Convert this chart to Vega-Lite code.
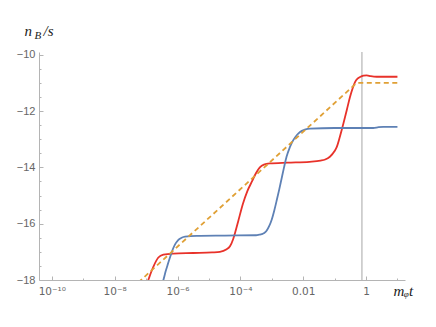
{
  "$schema": "https://vega.github.io/schema/vega-lite/v6.json",
  "width": 366,
  "height": 228,
  "autosize": {"type": "none"},
  "padding": {"left": 39, "top": 52, "right": 31, "bottom": 47},
  "background": "white",
  "config": {
    "view": {"stroke": null},
    "axis": {
      "grid": false,
      "domainColor": "#b4b4b4",
      "tickColor": "#b4b4b4",
      "labelColor": "#666666",
      "labelFont": "Liberation Sans",
      "labelFontSize": 11,
      "titleFont": "Liberation Serif",
      "titleFontStyle": "italic",
      "titleFontWeight": "normal",
      "titleColor": "#222222",
      "titleFontSize": 15,
      "titleAngle": 0,
      "titleAlign": "left",
      "titleBaseline": "alphabetic"
    }
  },
  "resolve": {"axis": {"x": "independent", "y": "independent"}},
  "layer": [
    {
      "data": {"values": [{"t": 0.74, "v": -18, "v2": -9.9}]},
      "mark": {"type": "rule", "color": "#c4c4c4", "strokeWidth": 1.5},
      "encoding": {
        "x": {
          "field": "t", "type": "quantitative",
          "scale": {"type": "log", "domain": [3.9e-11, 17.4], "nice": false},
          "axis": {
            "orient": "bottom",
            "values": [1e-9, 1e-7, 1e-5, 1e-3, 0.1, 10],
            "labels": false,
            "domain": false,
            "tickSize": -2,
            "title": "/s",
            "titleX": 4,
            "titleY": -245
          }
        },
        "y": {
          "field": "v", "type": "quantitative",
          "scale": {"domain": [-18, -9.9], "nice": false, "zero": false},
          "axis": {
            "orient": "left",
            "values": [-17.5, -17, -16.5, -15.5, -15, -14.5, -13.5, -13, -12.5, -11.5, -11, -10.5],
            "labels": false,
            "domain": false,
            "tickSize": -2,
            "title": "B",
            "titleFontSize": 11,
            "titleX": -5,
            "titleY": -14
          }
        },
        "y2": {"field": "v2"}
      }
    },
    {
      "data": {"values": [
        {"t": 1e-7, "v": -18.2, "s": "red"},
        {"t": 1.175e-7, "v": -18.0, "s": "red"},
        {"t": 1.413e-7, "v": -17.75, "s": "red"},
        {"t": 1.698e-7, "v": -17.53, "s": "red"},
        {"t": 2.455e-7, "v": -17.2, "s": "red"},
        {"t": 3.548e-7, "v": -17.1, "s": "red"},
        {"t": 7.244e-7, "v": -17.06, "s": "red"},
        {"t": 3.162e-6, "v": -17.04, "s": "red"},
        {"t": 1.259e-5, "v": -17.02, "s": "red"},
        {"t": 2.239e-5, "v": -17.0, "s": "red"},
        {"t": 3.548e-5, "v": -16.92, "s": "red"},
        {"t": 4.677e-5, "v": -16.8, "s": "red"},
        {"t": 5.888e-5, "v": -16.55, "s": "red"},
        {"t": 7.079e-5, "v": -16.25, "s": "red"},
        {"t": 8.511e-5, "v": -15.92, "s": "red"},
        {"t": 1.202e-4, "v": -15.3, "s": "red"},
        {"t": 1.66e-4, "v": -14.85, "s": "red"},
        {"t": 2.344e-4, "v": -14.5, "s": "red"},
        {"t": 3.162e-4, "v": -14.2, "s": "red"},
        {"t": 4.169e-4, "v": -14.0, "s": "red"},
        {"t": 5.623e-4, "v": -13.9, "s": "red"},
        {"t": 8.71e-4, "v": -13.86, "s": "red"},
        {"t": 3.162e-3, "v": -13.83, "s": "red"},
        {"t": 1.585e-2, "v": -13.8, "s": "red"},
        {"t": 3.548e-2, "v": -13.76, "s": "red"},
        {"t": 5.012e-2, "v": -13.72, "s": "red"},
        {"t": 7.079e-2, "v": -13.62, "s": "red"},
        {"t": 0.1, "v": -13.42, "s": "red"},
        {"t": 0.1175, "v": -13.27, "s": "red"},
        {"t": 0.1479, "v": -12.9, "s": "red"},
        {"t": 0.1905, "v": -12.44, "s": "red"},
        {"t": 0.2455, "v": -11.95, "s": "red"},
        {"t": 0.309, "v": -11.5, "s": "red"},
        {"t": 0.3802, "v": -11.17, "s": "red"},
        {"t": 0.4467, "v": -10.97, "s": "red"},
        {"t": 0.537, "v": -10.85, "s": "red"},
        {"t": 0.6457, "v": -10.79, "s": "red"},
        {"t": 0.8318, "v": -10.74, "s": "red"},
        {"t": 1.047, "v": -10.73, "s": "red"},
        {"t": 1.413, "v": -10.76, "s": "red"},
        {"t": 2.188, "v": -10.78, "s": "red"},
        {"t": 10, "v": -10.78, "s": "red"},
        {"t": 3.162e-7, "v": -18.15, "s": "blue"},
        {"t": 3.548e-7, "v": -18.0, "s": "blue"},
        {"t": 4.169e-7, "v": -17.7, "s": "blue"},
        {"t": 5.012e-7, "v": -17.41, "s": "blue"},
        {"t": 6.026e-7, "v": -17.13, "s": "blue"},
        {"t": 7.244e-7, "v": -16.88, "s": "blue"},
        {"t": 8.71e-7, "v": -16.7, "s": "blue"},
        {"t": 1.047e-6, "v": -16.58, "s": "blue"},
        {"t": 1.349e-6, "v": -16.5, "s": "blue"},
        {"t": 1.738e-6, "v": -16.46, "s": "blue"},
        {"t": 4.074e-6, "v": -16.43, "s": "blue"},
        {"t": 3.162e-5, "v": -16.42, "s": "blue"},
        {"t": 3.162e-4, "v": -16.41, "s": "blue"},
        {"t": 3.981e-4, "v": -16.39, "s": "blue"},
        {"t": 4.786e-4, "v": -16.37, "s": "blue"},
        {"t": 5.754e-4, "v": -16.33, "s": "blue"},
        {"t": 6.918e-4, "v": -16.24, "s": "blue"},
        {"t": 8.318e-4, "v": -16.08, "s": "blue"},
        {"t": 1.0e-3, "v": -15.85, "s": "blue"},
        {"t": 1.202e-3, "v": -15.53, "s": "blue"},
        {"t": 1.445e-3, "v": -15.16, "s": "blue"},
        {"t": 1.738e-3, "v": -14.77, "s": "blue"},
        {"t": 2.042e-3, "v": -14.41, "s": "blue"},
        {"t": 2.455e-3, "v": -14.0, "s": "blue"},
        {"t": 2.951e-3, "v": -13.62, "s": "blue"},
        {"t": 3.715e-3, "v": -13.3, "s": "blue"},
        {"t": 4.786e-3, "v": -13.04, "s": "blue"},
        {"t": 6.31e-3, "v": -12.85, "s": "blue"},
        {"t": 7.943e-3, "v": -12.74, "s": "blue"},
        {"t": 1.122e-2, "v": -12.66, "s": "blue"},
        {"t": 1.66e-2, "v": -12.62, "s": "blue"},
        {"t": 0.1, "v": -12.6, "s": "blue"},
        {"t": 1.698, "v": -12.6, "s": "blue"},
        {"t": 2.512, "v": -12.57, "s": "blue"},
        {"t": 3.548, "v": -12.56, "s": "blue"},
        {"t": 10, "v": -12.56, "s": "blue"}
      ]},
      "mark": {"type": "line", "interpolate": "monotone", "clip": true, "strokeWidth": 1.8},
      "encoding": {
        "x": {
          "field": "t", "type": "quantitative",
          "axis": {
            "orient": "bottom",
            "values": [1e-10, 1e-8, 1e-6, 1e-4, 0.01, 1],
            "labelExpr": "datum.value < 1e-9 ? '10⁻¹⁰' : datum.value < 1e-7 ? '10⁻⁸' : datum.value < 1e-5 ? '10⁻⁶' : datum.value < 1e-3 ? '10⁻⁴' : datum.value < 0.1 ? '0.01' : '1'",
            "labelFont": "DejaVu Sans",
            "labelFontSize": 10.5,
            "tickSize": -4,
            "labelPadding": 10,
            "labelFlush": false,
            "labelOverlap": false,
            "title": "mᵩt",
            "titleX": 354,
            "titleY": 15
          }
        },
        "y": {
          "field": "v", "type": "quantitative",
          "axis": {
            "orient": "left",
            "values": [-18, -16, -14, -12, -10],
            "tickSize": -4,
            "labelPadding": 8,
            "labelFlush": false,
            "title": "n",
            "titleX": -15,
            "titleY": -17
          }
        },
        "color": {
          "field": "s", "type": "nominal",
          "scale": {"domain": ["red", "blue"], "range": ["#e8322a", "#5e81b5"]},
          "legend": null
        }
      }
    },
    {
      "data": {"values": [
        {"t": 5.623e-8, "v": -18.09, "s": "orange"},
        {"t": 0.5012, "v": -11.0, "s": "orange"},
        {"t": 10, "v": -11.0, "s": "orange"}
      ]},
      "mark": {"type": "line", "interpolate": "linear", "clip": true, "strokeWidth": 1.8, "color": "#e0a035", "strokeDash": [5, 3.5]},
      "encoding": {
        "x": {"field": "t", "type": "quantitative", "axis": null},
        "y": {"field": "v", "type": "quantitative", "axis": null}
      }
    }
  ]
}
